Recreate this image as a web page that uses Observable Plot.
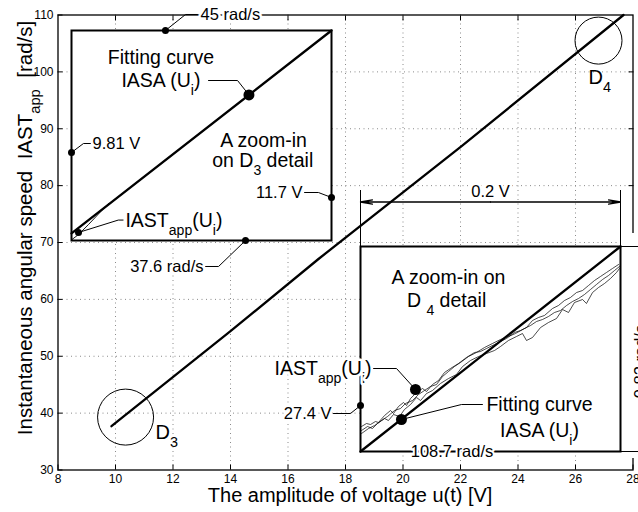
<!DOCTYPE html>
<html><head><meta charset="utf-8">
<script src="https://cdn.jsdelivr.net/npm/d3@7"></script>
<script src="https://cdn.jsdelivr.net/npm/@observablehq/plot@0.6"></script>
<style>
html,body{margin:0;padding:0;background:#fff;overflow:hidden}
#wrap{position:relative;width:638px;height:512px;overflow:hidden}
</style></head><body><div id="wrap"></div>
<script>
// ---------- main chart data ----------
const xTicks = [8, 10, 12, 14, 16, 18, 20, 22, 24, 26, 28];
const yTicks = [30, 40, 50, 60, 70, 80, 90, 100, 110];
const xGrid = [10, 12, 14, 16, 18, 20, 22, 24, 26];
const yGrid = [40, 50, 60, 70, 80, 90, 100];
const mainVoltage = [9.86, 14.0, 17.06, 22.05, 27.67];
const mainSpeed = [37.7, 54.4, 67.1, 87.0, 110];
const detailNames = ["D_{3}", "D_{4}"];
const detailVoltage = [10.35, 26.8];
const detailSpeed = [39.3, 105.5];
const detailLabelVoltage = [11.39, 26.45];
const detailLabelSpeed = [36.6, 99.0];
const xTitle = "The amplitude of voltage u(t) [V]";
const yTitle = "Instantaneous angular speed\u00a0\u00a0IAST_{app}\u00a0\u00a0[rad/s]";

// ---------- inset D3 data (x: 9.81..11.7 V, y: 37.6..45 rad/s) ----------
const d3Domain = {u: [9.81, 11.7], s: [37.6, 45]};
const d3Fit = [[9.81, 37.85], [11.7, 45.0]];
const d3Iast = [[9.8136, 37.635], [9.861, 37.811], [9.934, 38.164], [10.006, 38.534], [10.079, 38.904]];
const d3EdgeDots = [[10.493, 45.0], [9.81, 40.701], [11.7, 39.115], [11.075, 37.6]];
const d3FitDot = [11.10, 42.73];
const d3IastDot = [9.861, 37.882];
const d3Leaders = [
  [[10.493, 45.0], [10.639, 45.564], [10.726, 45.564]],
  [[9.81, 40.701], [9.897, 41.018], [9.948, 41.018]],
  [[11.7, 39.115], [11.605, 39.291], [11.504, 39.291]],
  [[11.075, 37.6], [10.879, 36.684], [10.784, 36.684]],
  [[11.10, 42.73], [11.017, 43.238], [10.806, 43.238]],
  [[9.861, 37.882], [10.15, 38.32], [10.185, 38.32]]
];
const d3Values = [
  {t: "45 rad/s", u: 10.748, s: 45.564, a: "start"},
  {t: "9.81 V", u: 9.963, s: 41.018, a: "start"},
  {t: "11.7 V", u: 11.489, s: 39.291, a: "end"},
  {t: "37.6 rad/s", u: 10.770, s: 36.684, a: "end"}
];
const d3Notes = [
  {t: "Fitting curve", u: 10.46, s: 44.05, a: "middle"},
  {t: "IASA (U_{i})", u: 10.46, s: 43.238, a: "middle"},
  {t: "A zoom-in", u: 11.206, s: 41.124, a: "middle"},
  {t: "on D_{3} detail", u: 11.20, s: 40.40, a: "middle"},
  {t: "IAST_{app}(U_{i})", u: 10.202, s: 38.31, a: "start"}
];

// ---------- inset D4 data (x: 27.4..27.6 V, y: 108.7..109.52 rad/s) ----------
const d4Domain = {u: [27.4, 27.6], s: [108.7, 109.52]};
const d4Fit = [[27.4, 108.7], [27.6, 109.52]];
const d4TraceA = [[27.4008,108.800],[27.4046,108.812],[27.4077,108.808],[27.4115,108.820],[27.4138,108.816],[27.4185,108.844],[27.4231,108.864],[27.4254,108.852],[27.4292,108.880],[27.4331,108.896],[27.4354,108.884],[27.4385,108.912],[27.4431,108.936],[27.4477,108.952],[27.4508,108.940],[27.4554,108.968],[27.4600,108.984],[27.4646,109.016],[27.4692,109.032],[27.4754,109.052],[27.4815,109.076],[27.4877,109.096],[27.4923,109.100],[27.4969,109.112],[27.5031,109.128],[27.5077,109.140],[27.5123,109.152],[27.5185,109.176],[27.5231,109.184],[27.5277,109.196],[27.5323,109.224],[27.5369,109.236],[27.5415,109.244],[27.5477,109.272],[27.5523,109.284],[27.5569,109.304],[27.5615,109.316],[27.5662,109.336],[27.5708,109.344],[27.5754,109.364],[27.5800,109.384],[27.5846,109.400],[27.5892,109.416],[27.5938,109.432],[27.5985,109.448]];
const d4TraceB = [[27.4008,108.784],[27.4054,108.800],[27.4092,108.792],[27.4131,108.812],[27.4185,108.832],[27.4215,108.824],[27.4254,108.848],[27.4300,108.840],[27.4338,108.868],[27.4385,108.888],[27.4431,108.916],[27.4462,108.904],[27.4508,108.932],[27.4554,108.944],[27.4615,108.972],[27.4677,108.992],[27.4738,109.008],[27.4785,109.040],[27.4846,109.064],[27.4908,109.080],[27.4969,109.092],[27.5031,109.104],[27.5077,109.120],[27.5138,109.144],[27.5200,109.160],[27.5246,109.172],[27.5277,109.144],[27.5323,109.156],[27.5385,109.196],[27.5446,109.216],[27.5508,109.232],[27.5554,109.268],[27.5600,109.256],[27.5646,109.296],[27.5708,109.308],[27.5738,109.292],[27.5785,109.336],[27.5831,109.356],[27.5877,109.372],[27.5923,109.392],[27.5969,109.416],[27.5992,109.432]];
const d4TraceC = [[27.4008,108.772],[27.4062,108.792],[27.4108,108.804],[27.4162,108.824],[27.4208,108.840],[27.4262,108.864],[27.4308,108.872],[27.4346,108.892],[27.4400,108.904],[27.4446,108.928],[27.4492,108.944],[27.4538,108.960],[27.4585,108.968],[27.4631,109.000],[27.4677,109.020],[27.4723,109.040],[27.4769,109.056],[27.4831,109.080],[27.4892,109.096],[27.4954,109.116],[27.5015,109.132],[27.5077,109.148],[27.5138,109.160],[27.5192,109.172],[27.5262,109.192],[27.5308,109.204],[27.5354,109.220],[27.5400,109.228],[27.5446,109.240],[27.5492,109.256],[27.5538,109.264],[27.5585,109.284],[27.5631,109.300],[27.5677,109.312],[27.5723,109.328],[27.5769,109.348],[27.5815,109.368],[27.5862,109.388],[27.5908,109.404],[27.5954,109.424],[27.5992,109.440]];
const d4EdgeDot = [27.4, 108.884];
const d4IastDot = [27.4423, 108.948];
const d4FitDot = [27.4315, 108.828];
const d4Leaders = [
  [[27.4, 108.884], [27.3923, 108.852], [27.3792, 108.852]],
  [[27.4423, 108.948], [27.4277, 109.032], [27.41, 109.032]],
  [[27.4315, 108.828], [27.4777, 108.888], [27.4938, 108.888]]
];
const d4Values = [
  {t: "27.4 V", u: 27.3777, s: 108.852, a: "end"},
  {t: "0.2 V", u: 27.5, s: 109.738, a: "middle"}
];
const d4Notes = [
  {t: "IAST_{app}(U_{i})", u: 27.4085, s: 109.03, a: "end"},
  {t: "Fitting curve", u: 27.5377, s: 108.888, a: "middle"},
  {t: "IASA (U_{i})", u: 27.5377, s: 108.784, a: "middle"},
  {t: "A zoom-in on", u: 27.4677, s: 109.396, a: "middle"},
  {t: "D _{4} detail", u: 27.4662, s: 109.304, a: "middle"}
];
const d4Height = "0.82 rad/s", d4Bottom = "108.7 rad/s";
const d4DimY = 109.698, d4DimExtTop = 109.744, d4DimX = 27.6162;

// ---------- helpers ----------
const FONT = "'Liberation Sans', Arial, Helvetica, sans-serif";
const pts = (arr) => arr.map(([u, s]) => ({u, s}));
const grouped = (paths) => paths.flatMap((p, id) => p.map(([u, s]) => ({id, u, s})));
function subs(svg) {
  svg.querySelectorAll("text").forEach(t => {
    if ([...t.childNodes].some(n => n.nodeType !== 3)) return;
    const s = t.textContent;
    if (!s.includes("_{")) return;
    t.textContent = "";
    const re = /_\{([^}]*)\}/g; let last = 0, m;
    while ((m = re.exec(s))) {
      if (m.index > last) t.appendChild(document.createTextNode(s.slice(last, m.index)));
      const ts = document.createElementNS("http://www.w3.org/2000/svg", "tspan");
      ts.setAttribute("baseline-shift", "sub");
      ts.setAttribute("font-size", "72%");
      ts.textContent = m[1];
      t.appendChild(ts);
      last = re.lastIndex;
    }
    if (last < s.length) t.appendChild(document.createTextNode(s.slice(last)));
  });
  return svg;
}
function anchoredTexts(list, size, extra) {
  return ["start", "middle", "end"].map(a => Plot.text(list.filter(d => d.a === a), {x: "u", y: "s", text: "t", textAnchor: a, fontSize: size, ...extra}));
}
const halo = {stroke: "white", strokeWidth: 5, paintOrder: "stroke", fill: "black"};

// ---------- main plot ----------
const main = Plot.plot({
  width: 638, height: 512,
  marginLeft: 57.5, marginRight: 5.5, marginTop: 14.5, marginBottom: 42.5,
  x: {domain: [8, 28]}, y: {domain: [30, 110]},
  style: {fontFamily: FONT, background: "white", color: "black"},
  marks: [
    Plot.gridX(xGrid, {stroke: "#8a8a8a", strokeOpacity: 1, strokeDasharray: "1,3.5"}),
    Plot.gridY(yGrid, {stroke: "#8a8a8a", strokeOpacity: 1, strokeDasharray: "1,3.5"}),
    Plot.frame({stroke: "black", strokeWidth: 1.3}),
    Plot.axisX(xTicks, {anchor: "bottom", tickSize: 5, dy: -5, tickFormat: () => "", label: null}),
    Plot.axisX(xGrid, {anchor: "top", tickSize: 5, dy: 5, tickFormat: () => "", label: null}),
    Plot.axisY(yTicks, {anchor: "left", tickSize: 5, dx: 5, tickFormat: () => "", label: null}),
    Plot.axisY(yGrid, {anchor: "right", tickSize: 5, dx: -5, tickFormat: () => "", label: null}),
    Plot.axisX(xTicks, {anchor: "bottom", tickSize: 0, tickPadding: 4, fontSize: 12, label: null}),
    Plot.axisY(yTicks, {anchor: "left", tickSize: 0, tickPadding: 4.5, fontSize: 12, label: null}),
    Plot.line(pts(d3.zip(mainVoltage, mainSpeed)), {x: "u", y: "s", stroke: "black", strokeWidth: 2.3}),
    Plot.dot([0], {x: detailVoltage[0], y: detailSpeed[0], r: 28, stroke: "black", fill: "none", strokeWidth: 1}),
    Plot.dot([1], {x: detailVoltage[1], y: detailSpeed[1], r: 23.5, stroke: "black", fill: "none", strokeWidth: 1}),
    Plot.text([0, 1], {x: i => detailLabelVoltage[i], y: i => detailLabelSpeed[i], text: i => detailNames[i], textAnchor: "start", fontSize: 20, fill: "black"}),
    Plot.text([yTitle], {frameAnchor: "left", textAnchor: "middle", lineAnchor: "middle", rotate: -90, dx: -32.4, dy: -14.5, text: d => d, fontSize: 20.5, fill: "black"}),
    Plot.text([xTitle], {x: () => 18.16, y: () => 30, textAnchor: "middle", lineAnchor: "middle", dy: 25.5, text: d => d, fontSize: 20, fill: "black"})
  ]
});

// ---------- inset D3 ----------
const inset1 = Plot.plot({
  width: 280, height: 275, marginLeft: 10, marginRight: 10, marginTop: 25, marginBottom: 40,
  x: {domain: d3Domain.u, axis: null}, y: {domain: d3Domain.s, axis: null},
  style: {position: "absolute", left: "61px", top: "5px", background: "transparent", overflow: "visible", fontFamily: FONT, color: "black"},
  marks: [
    Plot.frame({fill: "white", stroke: "black", strokeWidth: 2}),
    Plot.line(pts(d3Iast), {x: "u", y: "s", stroke: "black", strokeWidth: 0.9}),
    Plot.line(pts(d3Fit), {x: "u", y: "s", stroke: "black", strokeWidth: 2.3}),
    Plot.line(grouped(d3Leaders), {x: "u", y: "s", z: "id", stroke: "black", strokeWidth: 1}),
    Plot.dot(pts(d3EdgeDots), {x: "u", y: "s", r: 3.5, fill: "black"}),
    Plot.dot(pts([d3IastDot]), {x: "u", y: "s", r: 3.5, fill: "black"}),
    Plot.dot(pts([d3FitDot]), {x: "u", y: "s", r: 5.5, fill: "black"}),
    ...anchoredTexts(d3Values, 16.5, halo),
    ...anchoredTexts(d3Notes, 19.5, {fill: "black"})
  ]
});

// ---------- inset D4 ----------
const inset2 = Plot.plot({
  width: 385, height: 290, marginLeft: 95, marginRight: 30, marginTop: 65, marginBottom: 20,
  x: {domain: d4Domain.u, axis: null}, y: {domain: d4Domain.s, axis: null},
  style: {position: "absolute", left: "265px", top: "181px", background: "transparent", overflow: "visible", fontFamily: FONT, color: "black"},
  marks: [
    Plot.rect([0], {x1: d4Domain.u[1], x2: d4Domain.u[1], y1: d4Domain.s[0], y2: d4Domain.s[1], insetRight: -22, insetTop: -13, insetBottom: -7, fill: "white"}),
    Plot.frame({fill: "white", stroke: "black", strokeWidth: 2}),
    Plot.line(grouped([d4TraceA, d4TraceB, d4TraceC]), {x: "u", y: "s", z: "id", stroke: "black", strokeWidth: 0.7}),
    Plot.line(pts(d4Fit), {x: "u", y: "s", stroke: "black", strokeWidth: 2.3}),
    Plot.line(grouped(d4Leaders), {x: "u", y: "s", z: "id", stroke: "black", strokeWidth: 1}),
    Plot.ruleX(d4Domain.u, {y1: d4Domain.s[1], y2: d4DimExtTop, stroke: "black", strokeWidth: 1}),
    Plot.ruleY(d4Domain.s, {x1: d4Domain.u[1], x2: d4DimX + 0.003, stroke: "black", strokeWidth: 1}),
    Plot.arrow(d4Domain.u, {x1: d3.mean(d4Domain.u), x2: d => d, y1: d4DimY, y2: d4DimY, headLength: 14, headAngle: 20, stroke: "black", strokeWidth: 1.3}),
    Plot.arrow(d4Domain.s, {y1: d3.mean(d4Domain.s), y2: d => d, x1: d4DimX, x2: d4DimX, headLength: 14, headAngle: 20, stroke: "black", strokeWidth: 1.3}),
    Plot.dot(pts([d4EdgeDot]), {x: "u", y: "s", r: 3.5, fill: "black"}),
    Plot.dot(pts([d4IastDot]), {x: "u", y: "s", r: 5.5, fill: "black"}),
    Plot.dot(pts([d4FitDot]), {x: "u", y: "s", r: 5.5, fill: "black"}),
    ...anchoredTexts(d4Values, 16.5, halo),
    Plot.text([d4Bottom], {x: d3.mean(d4Domain.u) - 0.0296, y: d4Domain.s[0], text: d => d, fontSize: 16.5, ...halo, strokeWidth: 4}),
    Plot.text([d4Height], {x: d4DimX - 0.0006, y: 109.06, text: d => d, rotate: -90, fontSize: 16.5, ...halo, strokeWidth: 3}),
    ...anchoredTexts(d4Notes.slice(0, 1), 19.5, halo),
    ...anchoredTexts(d4Notes.slice(1), 19.5, {fill: "black"})
  ]
});

const wrap = document.getElementById("wrap");
wrap.appendChild(subs(main));
wrap.appendChild(subs(inset1));
wrap.appendChild(subs(inset2));
</script>
</body></html>
